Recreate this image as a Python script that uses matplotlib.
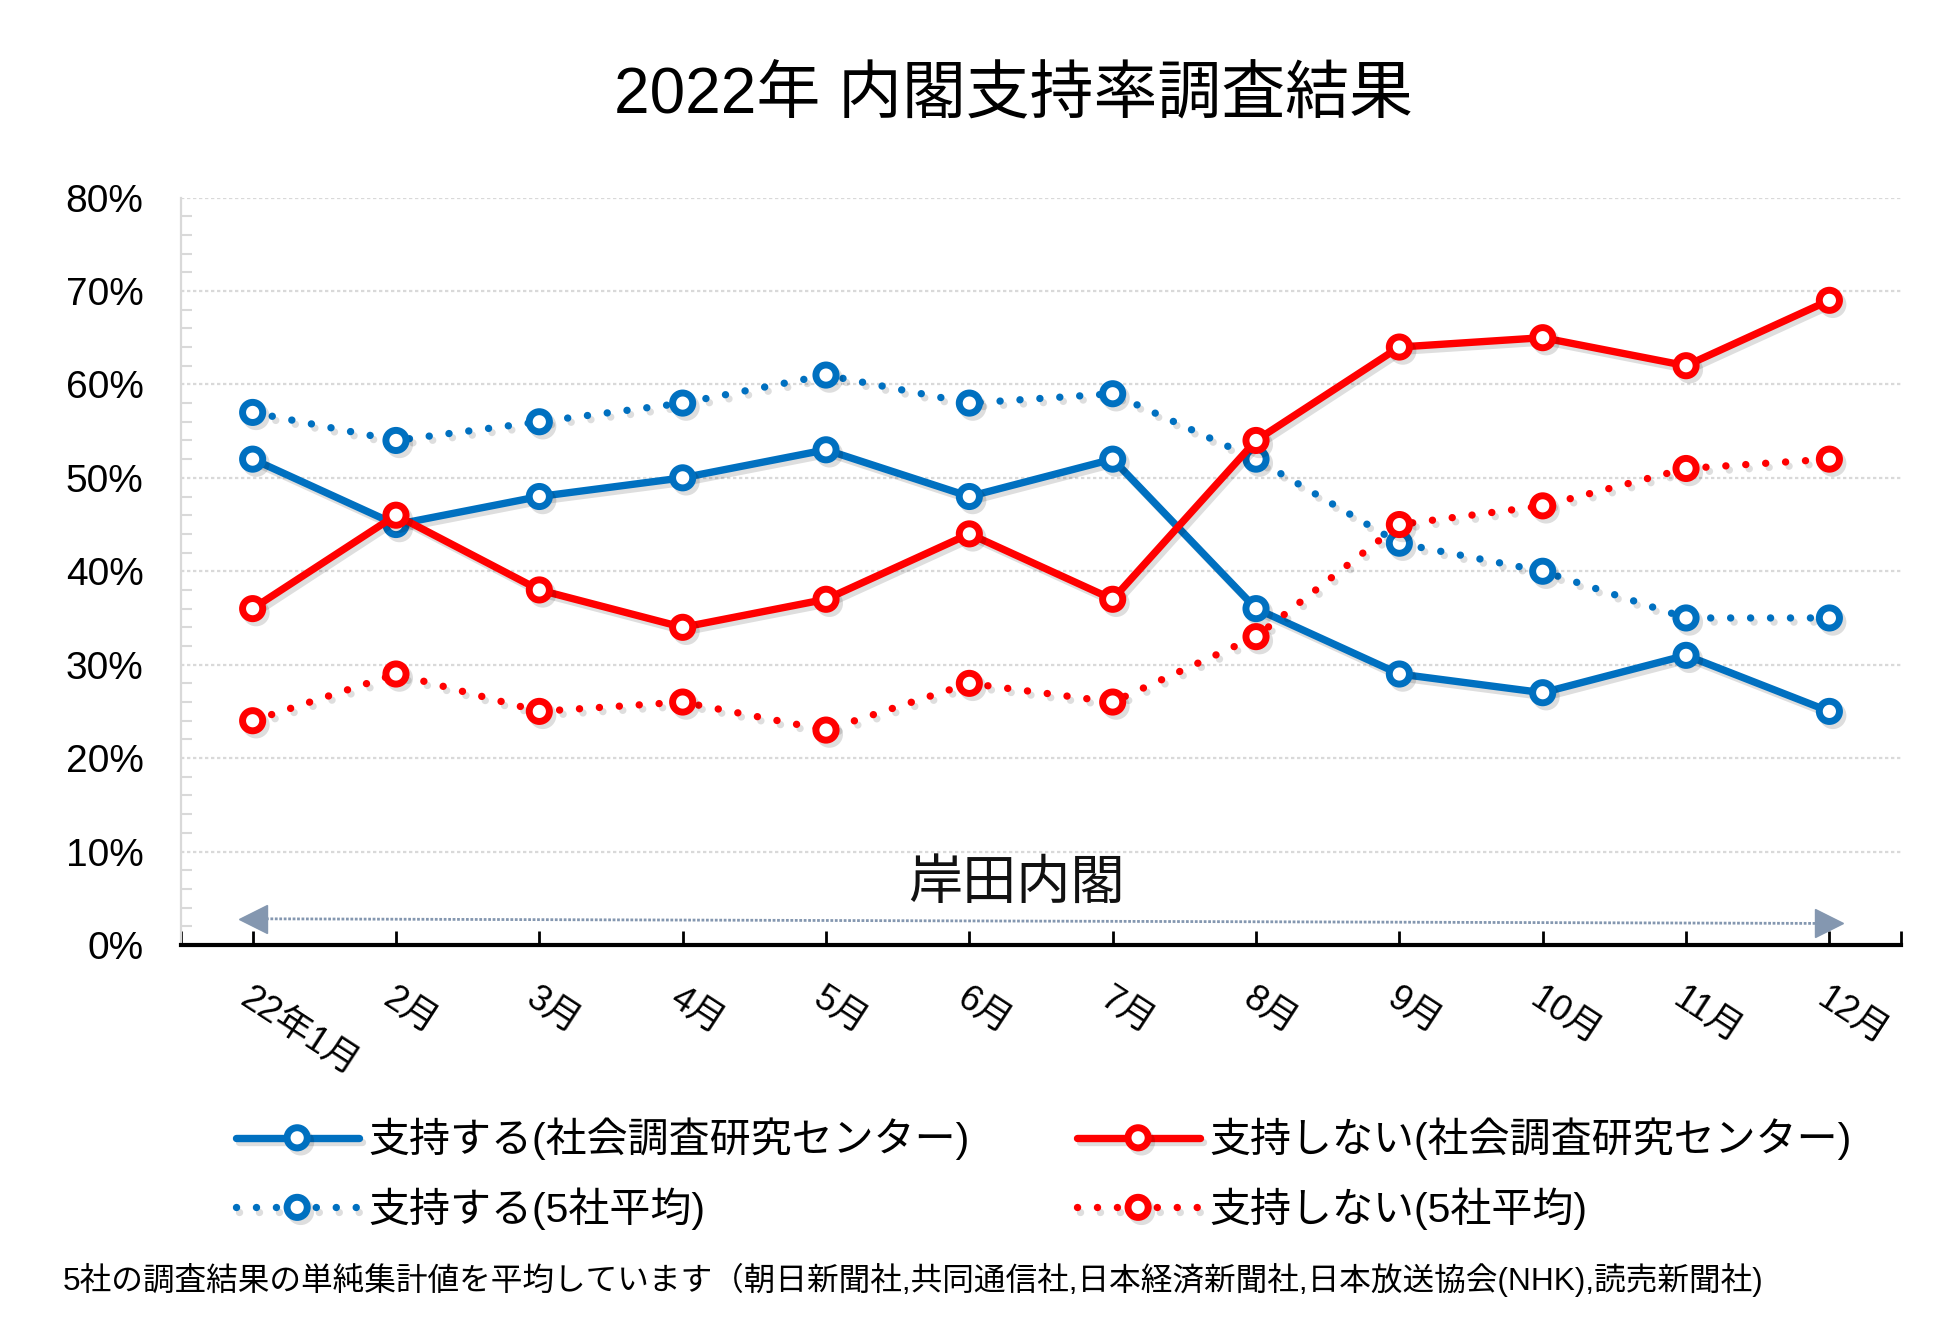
import matplotlib
matplotlib.use("Agg")
import matplotlib.pyplot as plt
import matplotlib.patheffects as pe
from matplotlib.ticker import MultipleLocator, FixedLocator

plt.rcParams["font.family"] = ["Liberation Sans", "Noto Sans CJK JP"]

# --- data -------------------------------------------------------------
months = ["22年1月", "2月", "3月", "4月", "5月", "6月",
          "7月", "8月", "9月", "10月", "11月", "12月"]
support_center = [52, 45, 48, 50, 53, 48, 52, 36, 29, 27, 31, 25]
support_avg = [57, 54, 56, 58, 61, 58, 59, 52, 43, 40, 35, 35]
oppose_center = [36, 46, 38, 34, 37, 44, 37, 54, 64, 65, 62, 69]
oppose_avg = [24, 29, 25, 26, 23, 28, 26, 33, 45, 47, 51, 52]

labels = ["支持する(社会調査研究センター)", "支持する(5社平均)",
          "支持しない(社会調査研究センター)", "支持しない(5社平均)"]
y_ticks = [0, 10, 20, 30, 40, 50, 60, 70, 80]
y_tick_labels = [f"{v}%" for v in y_ticks]

title = "2022年 内閣支持率調査結果"
cabinet_label = "岸田内閣"
cabinet_span = [0, 11]          # month index where the cabinet arrow runs
cabinet_level = [2.8, 2.3]      # arrow height (%) at both ends
footnote = ("5社の調査結果の単純集計値を平均しています（朝日新聞社,共同通信社,"
            "日本経済新聞社,日本放送協会(NHK),読売新聞社)")

BLUE = "#0070C0"
RED = "#FF0000"
ARROW = "#8497B0"
GRID = "#D9D9D9"
DOTTED = (0, (0.01, 2.7))

# --- figure -----------------------------------------------------------
fig = plt.figure(figsize=(19.48, 13.17), dpi=100)
ax = fig.add_axes([0.0929, 0.2825, 0.883, 0.5675])

x = list(range(len(months)))
series = [
    (support_center, BLUE, "-"),
    (support_avg, BLUE, DOTTED),
    (oppose_center, RED, "-"),
    (oppose_avg, RED, DOTTED),
]
shadow = [pe.SimpleLineShadow(offset=(2.5, -3), shadow_color="k", alpha=0.13),
          pe.Normal()]
handles = []
for (vals, color, ls), lab in zip(series, labels):
    (ln,) = ax.plot(x, vals, color=color, linestyle=ls, linewidth=5.3,
                    dash_capstyle="round", solid_capstyle="round",
                    marker="o", markersize=14.5, markeredgewidth=5,
                    markerfacecolor="white", markeredgecolor=color,
                    label=lab, zorder=3, path_effects=shadow)
    handles.append(ln)

# cabinet arrow
ax.plot(cabinet_span, cabinet_level, color=ARROW, linestyle=(0, (1, 0.6)),
        linewidth=2, zorder=2)
ax.plot(cabinet_span[0], cabinet_level[0], marker="<", color=ARROW,
        markersize=20, linestyle="none", zorder=2)
ax.plot(cabinet_span[1], cabinet_level[1], marker=">", color=ARROW,
        markersize=20, linestyle="none", zorder=2)
ax.text(5.33, 6.4, cabinet_label, ha="center", va="center", fontsize=39,
        color="#111111")

# axes styling
ax.set_xlim(-0.5, len(months) - 0.5)
ax.set_ylim(0, 80)
ax.set_yticks(y_ticks, y_tick_labels)
ax.yaxis.set_minor_locator(MultipleLocator(2))
ax.set_xticks(x, months, rotation=-33, ha="left", va="top",
              rotation_mode="anchor")
ax.xaxis.set_minor_locator(FixedLocator([-0.5, len(months) - 0.5]))

ax.grid(axis="y", color=GRID, linestyle=(0, (1.5, 1.2)), linewidth=1.6)
ax.set_axisbelow(True)
for side in ("top", "right"):
    ax.spines[side].set_visible(False)
ax.spines["left"].set_color(GRID)
ax.spines["left"].set_linewidth(1.6)
ax.spines["bottom"].set_color("black")
ax.spines["bottom"].set_linewidth(3)
ax.spines["bottom"].set_zorder(4)

ax.tick_params(axis="y", which="major", length=0, pad=27, labelsize=28)
ax.tick_params(axis="y", which="minor", direction="in", length=8,
               width=1.5, color=GRID)
ax.tick_params(axis="x", which="both", direction="in", length=10, width=2,
               color="black", pad=26, labelsize=26)

fig.text(0.52, 0.927, title, ha="center", va="center", fontsize=46)

fig.legend(handles, labels, loc="upper left", bbox_to_anchor=(0.121, 0.1515),
           ncol=2, frameon=False, fontsize=29.5, handlelength=3.0,
           handletextpad=0.25, columnspacing=2.6, labelspacing=0.66,
           borderpad=0, borderaxespad=0, numpoints=1)

fig.text(0.032, 0.028, footnote, ha="left", va="center", fontsize=22.8)

fig.savefig("out.png", dpi=100)
plt.close(fig)
